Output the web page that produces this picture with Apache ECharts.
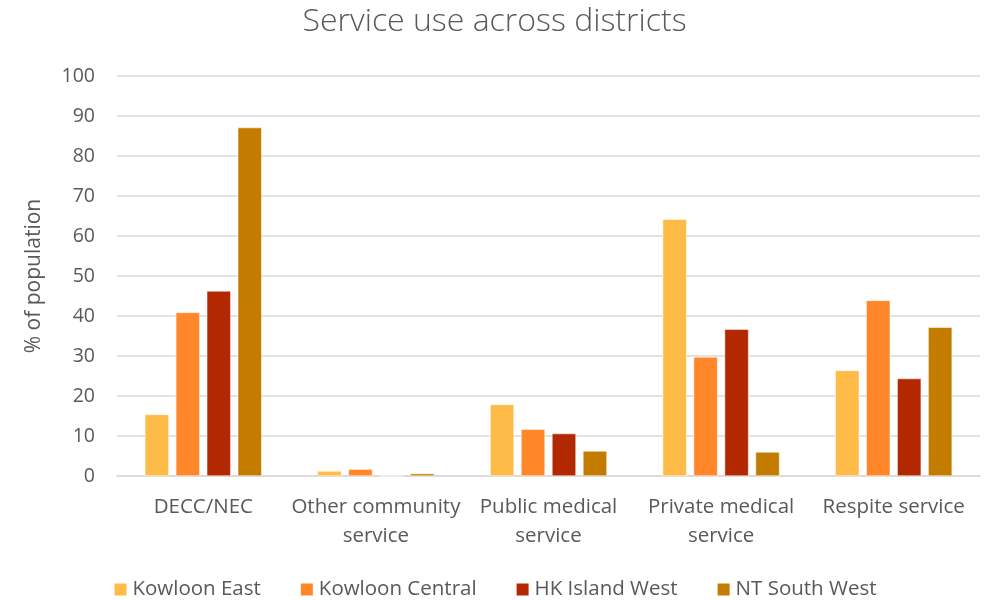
<!DOCTYPE html>
<html><head><meta charset="utf-8">
<script src="https://cdn.jsdelivr.net/npm/echarts@6/dist/echarts.min.js"></script>
<style>html,body{margin:0;padding:0;background:#fff}#c{width:989px;height:600px}</style>
</head><body><div id="c"></div>
<script>
const categories = ['DECC/NEC', 'Other community\nservice', 'Public medical\nservice', 'Private medical\nservice', 'Respite service'];
const seriesNames = ['Kowloon East', 'Kowloon Central', 'HK Island West', 'NT South West'];
const kowloonEast = [15.4, 1.25, 17.9, 64.2, 26.4];
const kowloonCentral = [40.9, 1.7, 11.7, 29.75, 43.9];
const hkIslandWest = [46.25, 0, 10.6, 36.7, 24.35];
const ntSouthWest = [87.1, 0.6, 6.25, 6.0, 37.2];
const yTicks = [0, 100, 10];
const colors = ['#FFBB47', '#FF8629', '#B22800', '#C47C00'];
const values = [kowloonEast, kowloonCentral, hkIslandWest, ntSouthWest];
const font = '"Open Sans", sans-serif';
const chart = echarts.init(document.getElementById('c'));
chart.setOption({
  animation: false,
  title: { text: 'Service use across districts', left: 'center', top: 1,
    textStyle: { fontFamily: font, fontWeight: 300, fontSize: 32, color: '#595959' } },
  legend: { bottom: -5, left: 'center', itemWidth: 14, itemHeight: 14, itemGap: 38, icon: 'rect',
    textStyle: { fontFamily: font, fontSize: 20.5, color: '#595959' } },
  grid: { left: 117, right: 9, top: 76, bottom: 124 },
  xAxis: { type: 'category', data: categories,
    axisLine: { lineStyle: { color: '#D9D9D9', width: 1.5 } }, axisTick: { show: false },
    axisLabel: { fontFamily: font, fontSize: 20.5, color: '#595959', margin: 17, lineHeight: 29, interval: 0 } },
  yAxis: { type: 'value', min: yTicks[0], max: yTicks[1], interval: yTicks[2],
    name: '% of population', nameLocation: 'middle', nameGap: 72, nameRotate: 90,
    nameTextStyle: { fontFamily: font, fontSize: 21, color: '#595959' },
    axisLine: { show: false }, axisTick: { show: false },
    axisLabel: { fontFamily: font, fontSize: 19.5, color: '#595959', margin: 22 },
    splitLine: { lineStyle: { color: '#D9D9D9', width: 1.5 } } },
  series: values.map((v, i) => ({
    name: seriesNames[i], type: 'bar', data: v, barWidth: 24, barGap: '29%',
    itemStyle: { color: colors[i], borderColor: '#fff', borderWidth: 0.5 }
  }))
});
</script></body></html>
